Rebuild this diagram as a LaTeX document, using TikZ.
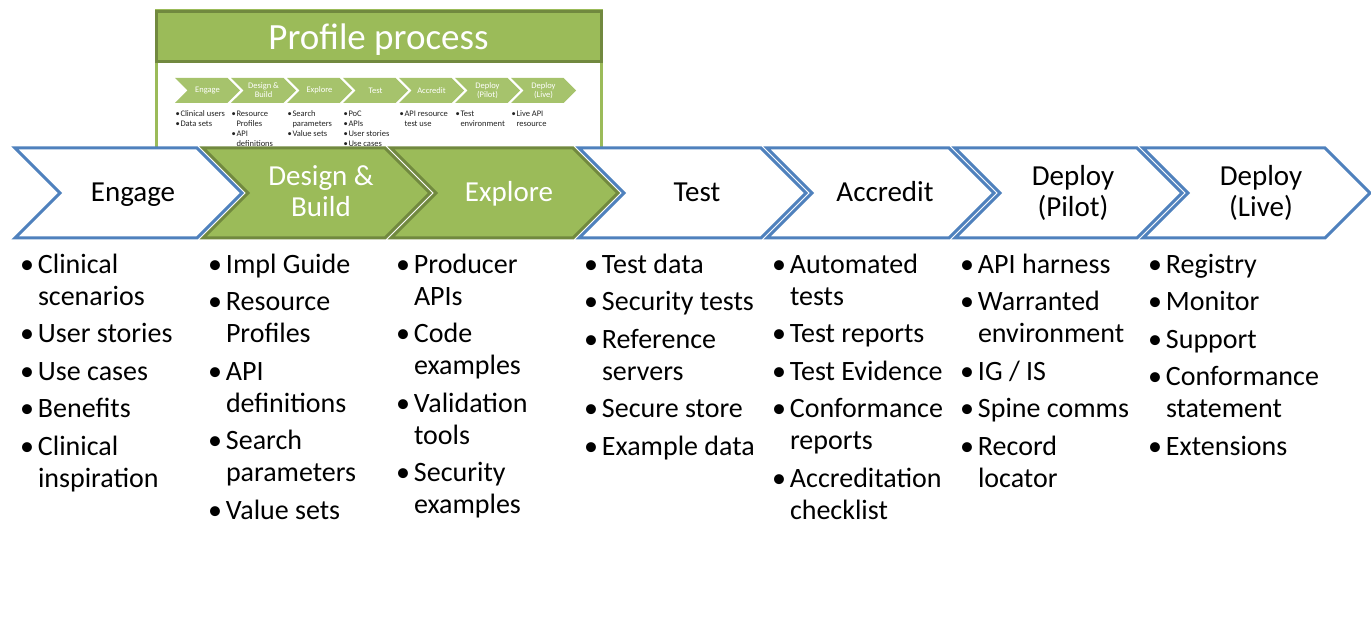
\documentclass[tikz,border=0pt]{standalone}
\usepackage{fontspec}
\setmainfont{Carlito}
\usetikzlibrary{shapes.symbols}
\usetikzlibrary{positioning}
\definecolor{nodeblue}{RGB}{79,129,189}
\definecolor{nodegreen}{RGB}{155,187,89}
\definecolor{nodedarkgreen}{RGB}{113,137,63}
\definecolor{nodelightgreen}{RGB}{166,195,108}
\definecolor{minitext}{RGB}{35,35,35}
\newcommand{\sline}[1]{\rule[-7pt]{0pt}{30.6pt}\hspace*{9pt}#1}
\newcommand{\bitem}[1]{\strut\makebox[18pt][l]{•}#1}
\newcommand{\bcont}[1]{\strut\hspace*{18pt}#1}
\newcommand{\sitem}[1]{\strut\makebox[5pt][l]{•}#1}
\newcommand{\scont}[1]{\strut\hspace*{5pt}#1}
\tikzset{
	every node/.style={inner sep=0pt,outer sep=0pt}
}
\tikzset{
	stage/.style={signal,signal from=west,signal to=east,signal pointer angle=90,
		minimum width=227pt,minimum height=90pt,draw=nodeblue,fill=white,line width=3pt,
		align=center,font=\fontsize{29}{30.6}\selectfont},
	green stage/.style={fill=nodegreen,draw=nodedarkgreen,text=white}
}
\tikzset{
	mini stage/.style={signal,signal from=west,signal to=east,signal pointer angle=90,
		minimum width=65pt,minimum height=25pt,fill=nodelightgreen,text=white,
		align=center,font=\fontsize{8.5}{9}\selectfont},
	stage list/.style={anchor=north west,align=left,font=\fontsize{28}{32}\selectfont},
	mini list/.style={anchor=north west,align=left,text=minitext,font=\fontsize{8.5}{9.7}\selectfont},
	title bar/.style={minimum width=445pt,minimum height=50pt,fill=nodegreen,draw=nodedarkgreen,
		line width=3pt,text=white,text depth=0pt,font=\fontsize{37}{40}\selectfont}
}

\begin{document}
\begin{tikzpicture}[x=1pt,y=-1pt,node distance=188pt]
	\useasboundingbox (0,0) rectangle (1371,644);
	\begin{scope}
		\clip (150,0) rectangle (610,147);
		\draw[nodegreen,line width=3pt] (156,11) rectangle (601,180);
		\node[title bar] (title) at (378.5,37) {Profile process};
		\begin{scope}[node distance=56pt]
			\node[mini stage] (mEngage) at (207.5,90.5) {Engage};
			\node[mini stage] (mDesign) [right of=mEngage] {Design \&\\Build};
			\node[mini stage] (mExplore) [right of=mDesign] {Explore};
			\node[mini stage] (mTest) [right of=mExplore] {Test};
			\node[mini stage] (mAccredit) [right of=mTest] {Accredit};
			\node[mini stage] (mPilot) [right of=mAccredit] {Deploy\\(Pilot)};
			\node[mini stage] (mLive) [right of=mPilot] {Deploy\\(Live)};
		\end{scope}
		\node[mini list] (mEngageList) at (175.5,110.2) {\sitem{Clinical users}\\\sitem{Data sets}};
		\node[mini list] (mDesignList) at (231.5,110.2) {\sitem{Resource}\\\scont{Profiles}\\\sitem{API}\\\scont{definitions}};
		\node[mini list] (mExploreList) at (287.5,110.2) {\sitem{Search}\\\scont{parameters}\\\sitem{Value sets}};
		\node[mini list] (mTestList) at (343.5,110.2) {\sitem{PoC}\\\sitem{APIs}\\\sitem{User stories}\\\sitem{Use cases}};
		\node[mini list] (mAccreditList) at (399.5,110.2) {\sitem{API resource}\\\scont{test use}};
		\node[mini list] (mPilotList) at (455.5,110.2) {\sitem{Test}\\\scont{environment}};
		\node[mini list] (mLiveList) at (511.5,110.2) {\sitem{Live API}\\\scont{resource}};
	\end{scope}
	\node[stage] (engage) at (128.5,193) {\sline{Engage}};
	\node[stage,green stage] (design) [right of=engage] {\sline{Design \&}\\\sline{Build}};
	\node[stage,green stage] (explore) [right of=design] {\sline{Explore}};
	\node[stage] (test) [right of=explore] {\sline{Test}};
	\node[stage] (accredit) [right of=test] {\sline{Accredit}};
	\node[stage] (pilot) [right of=accredit] {\sline{Deploy}\\\sline{(Pilot)}};
	\node[stage] (live) [right of=pilot] {\sline{Deploy}\\\sline{(Live)}};
	\node[stage list] (engageList) at (20,251) {\bitem{Clinical}\\\bcont{scenarios}\\[5.5pt]\bitem{User stories}\\[5.5pt]\bitem{Use cases}\\[5.5pt]\bitem{Benefits}\\[5.5pt]\bitem{Clinical}\\\bcont{inspiration}};
	\node[stage list] (designList) at (208,251) {\bitem{Impl Guide}\\[5.5pt]\bitem{Resource}\\\bcont{Profiles}\\[5.5pt]\bitem{API}\\\bcont{definitions}\\[5.5pt]\bitem{Search}\\\bcont{parameters}\\[5.5pt]\bitem{Value sets}};
	\node[stage list] (exploreList) at (396,251) {\bitem{Producer}\\\bcont{APIs}\\[5.5pt]\bitem{Code}\\\bcont{examples}\\[5.5pt]\bitem{Validation}\\\bcont{tools}\\[5.5pt]\bitem{Security}\\\bcont{examples}};
	\node[stage list] (testList) at (584,251) {\bitem{Test data}\\[5.5pt]\bitem{Security tests}\\[5.5pt]\bitem{Reference}\\\bcont{servers}\\[5.5pt]\bitem{Secure store}\\[5.5pt]\bitem{Example data}};
	\node[stage list] (accreditList) at (772,251) {\bitem{Automated}\\\bcont{tests}\\[5.5pt]\bitem{Test reports}\\[5.5pt]\bitem{Test Evidence}\\[5.5pt]\bitem{Conformance}\\\bcont{reports}\\[5.5pt]\bitem{Accreditation}\\\bcont{checklist}};
	\node[stage list] (pilotList) at (960,251) {\bitem{API harness}\\[5.5pt]\bitem{Warranted}\\\bcont{environment}\\[5.5pt]\bitem{IG / IS}\\[5.5pt]\bitem{Spine comms}\\[5.5pt]\bitem{Record}\\\bcont{locator}};
	\node[stage list] (liveList) at (1148,251) {\bitem{Registry}\\[5.5pt]\bitem{Monitor}\\[5.5pt]\bitem{Support}\\[5.5pt]\bitem{Conformance}\\\bcont{statement}\\[5.5pt]\bitem{Extensions}};
\end{tikzpicture}
\end{document}
